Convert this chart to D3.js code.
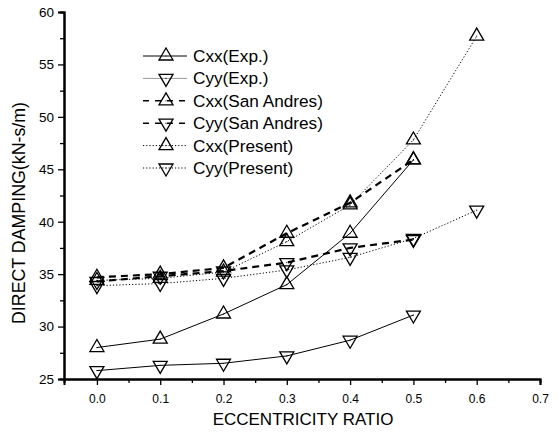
<!DOCTYPE html>
<html>
<head>
<meta charset="utf-8">
<script src="https://cdn.jsdelivr.net/npm/d3@7"></script>
<style>
  body { margin: 0; background: #fff; }
  svg { font-family: "Liberation Sans", Arial, sans-serif; }
</style>
</head>
<body>
<svg id="chart"></svg>
<script>
// eccentricity ratios
const ecc = [0.0, 0.1, 0.2, 0.3, 0.4, 0.5, 0.6];

const cxxExp = [28.0, 28.8, 31.2, 34.0, 38.9, 45.9];
const cyyExp = [25.8, 26.3, 26.5, 27.2, 28.7, 31.1];
const cxxSanAndres = [34.7, 35.0, 35.6, 38.9, 41.8, 45.9];
const cyySanAndres = [34.3, 34.8, 35.3, 36.1, 37.5, 38.3];
const cxxPresent = [34.4, 34.6, 35.2, 38.1, 41.6, 47.8, 57.7];
const cyyPresent = [33.9, 34.1, 34.6, 35.4, 36.6, 38.4, 41.1];

const xTicks = [0.0, 0.1, 0.2, 0.3, 0.4, 0.5, 0.6, 0.7];
const yTicks = [25, 30, 35, 40, 45, 50, 55, 60];

const series = [
  {name: 'Cxx(Exp.)', vals: cxxExp, up: true, style: 'solid'},
  {name: 'Cyy(Exp.)', vals: cyyExp, up: false, style: 'solid'},
  {name: 'Cxx(San Andres)', vals: cxxSanAndres, up: true, style: 'dash'},
  {name: 'Cyy(San Andres)', vals: cyySanAndres, up: false, style: 'dash'},
  {name: 'Cxx(Present)', vals: cxxPresent, up: true, style: 'dot'},
  {name: 'Cyy(Present)', vals: cyyPresent, up: false, style: 'dot'}
];

const width = 559, height = 436;
const svg = d3.select('#chart').attr('width', width).attr('height', height);

const xScale = d3.scaleLinear().domain([-0.052, 0.7]).range([64, 540]);
const yScale = d3.scaleLinear().domain([25, 60]).range([379, 12]);

// axes
const xAxis = d3.axisBottom(xScale).tickValues(xTicks).tickFormat(d3.format('.1f'))
  .tickSize(6).tickPadding(9);
const xMinor = d3.axisBottom(xScale).tickValues(d3.range(0.05, 0.7, 0.1)).tickFormat('').tickSize(4);
const yAxis = d3.axisLeft(yScale).tickValues(yTicks).tickSize(6).tickPadding(4);
const yMinor = d3.axisLeft(yScale).tickValues(d3.range(27.5, 60, 5)).tickFormat('').tickSize(4);

const gx = svg.append('g').attr('transform', 'translate(0,379)');
gx.call(xAxis);
gx.append('g').call(xMinor);
const gy = svg.append('g').attr('transform', 'translate(64,0)');
gy.call(yAxis);
gy.append('g').call(yMinor);

svg.selectAll('.domain').attr('stroke', '#000').attr('stroke-width', 2);
svg.selectAll('.tick line').attr('stroke', '#000').attr('stroke-width', 1.3);
svg.selectAll('.tick text').attr('fill', '#000')
  .attr('font-family', '"Liberation Sans", Arial, sans-serif');
gx.selectAll('.tick text').attr('font-size', 12);
gy.selectAll('.tick text').attr('font-size', 13.5);

svg.append('text').attr('x', 303).attr('y', 425).attr('text-anchor', 'middle')
  .attr('font-size', 17).text('ECCENTRICITY RATIO');
svg.append('text').attr('transform', 'translate(25,213) rotate(-90)').attr('text-anchor', 'middle')
  .attr('font-size', 17.8).text('DIRECT DAMPING(kN-s/m)');

function lineStyle(sel, style, color) {
  sel.attr('fill', 'none').attr('stroke', color || '#000');
  if (style === 'solid') sel.attr('stroke-width', 1);
  if (style === 'dash') sel.attr('stroke-width', 2.2).attr('stroke-dasharray', '7,5');
  if (style === 'dot') sel.attr('stroke-width', 1).attr('stroke-dasharray', '1.2,2');
}

function triangle(g, x, y, up) {
  const s = 7, h = 12;
  const pts = up
    ? [[x - s, y + h / 3], [x + s, y + h / 3], [x, y - 2 * h / 3]]
    : [[x - s, y - h / 3], [x + s, y - h / 3], [x, y + 2 * h / 3]];
  g.append('polygon').attr('points', pts.map(p => p.join(',')).join(' '))
    .attr('fill', 'none').attr('stroke', '#000').attr('stroke-width', 1.3);
  g.append('circle').attr('cx', x).attr('cy', y).attr('r', 0.6).attr('fill', '#000');
}

const line = d3.line().x(d => xScale(d[0])).y(d => yScale(d[1]));

series.forEach(s => {
  const pts = s.vals.map((v, i) => [ecc[i], v]);
  svg.append('path').attr('d', line(pts)).call(lineStyle, s.style);
});
series.forEach(s => {
  const g = svg.append('g');
  s.vals.forEach((v, i) => triangle(g, xScale(ecc[i]), yScale(v), s.up));
});

// legend
const legend = svg.append('g');
series.forEach((s, i) => {
  const y = 56 + i * 22.4;
  legend.append('line').attr('x1', 143).attr('x2', 187).attr('y1', y).attr('y2', y)
    .call(lineStyle, s.style, i === 1 ? '#999' : '#000')
    .attr('stroke-dasharray', s.style === 'dash' ? '6,6' : (s.style === 'dot' ? '1.2,2' : null))
    .attr('stroke-width', s.style === 'dash' ? 1.5 : 1);
  triangle(legend, 166, y, s.up);
  legend.append('text').attr('x', 193).attr('y', y + 6).attr('font-size', 17.2).text(s.name);
});
</script>
</body>
</html>
